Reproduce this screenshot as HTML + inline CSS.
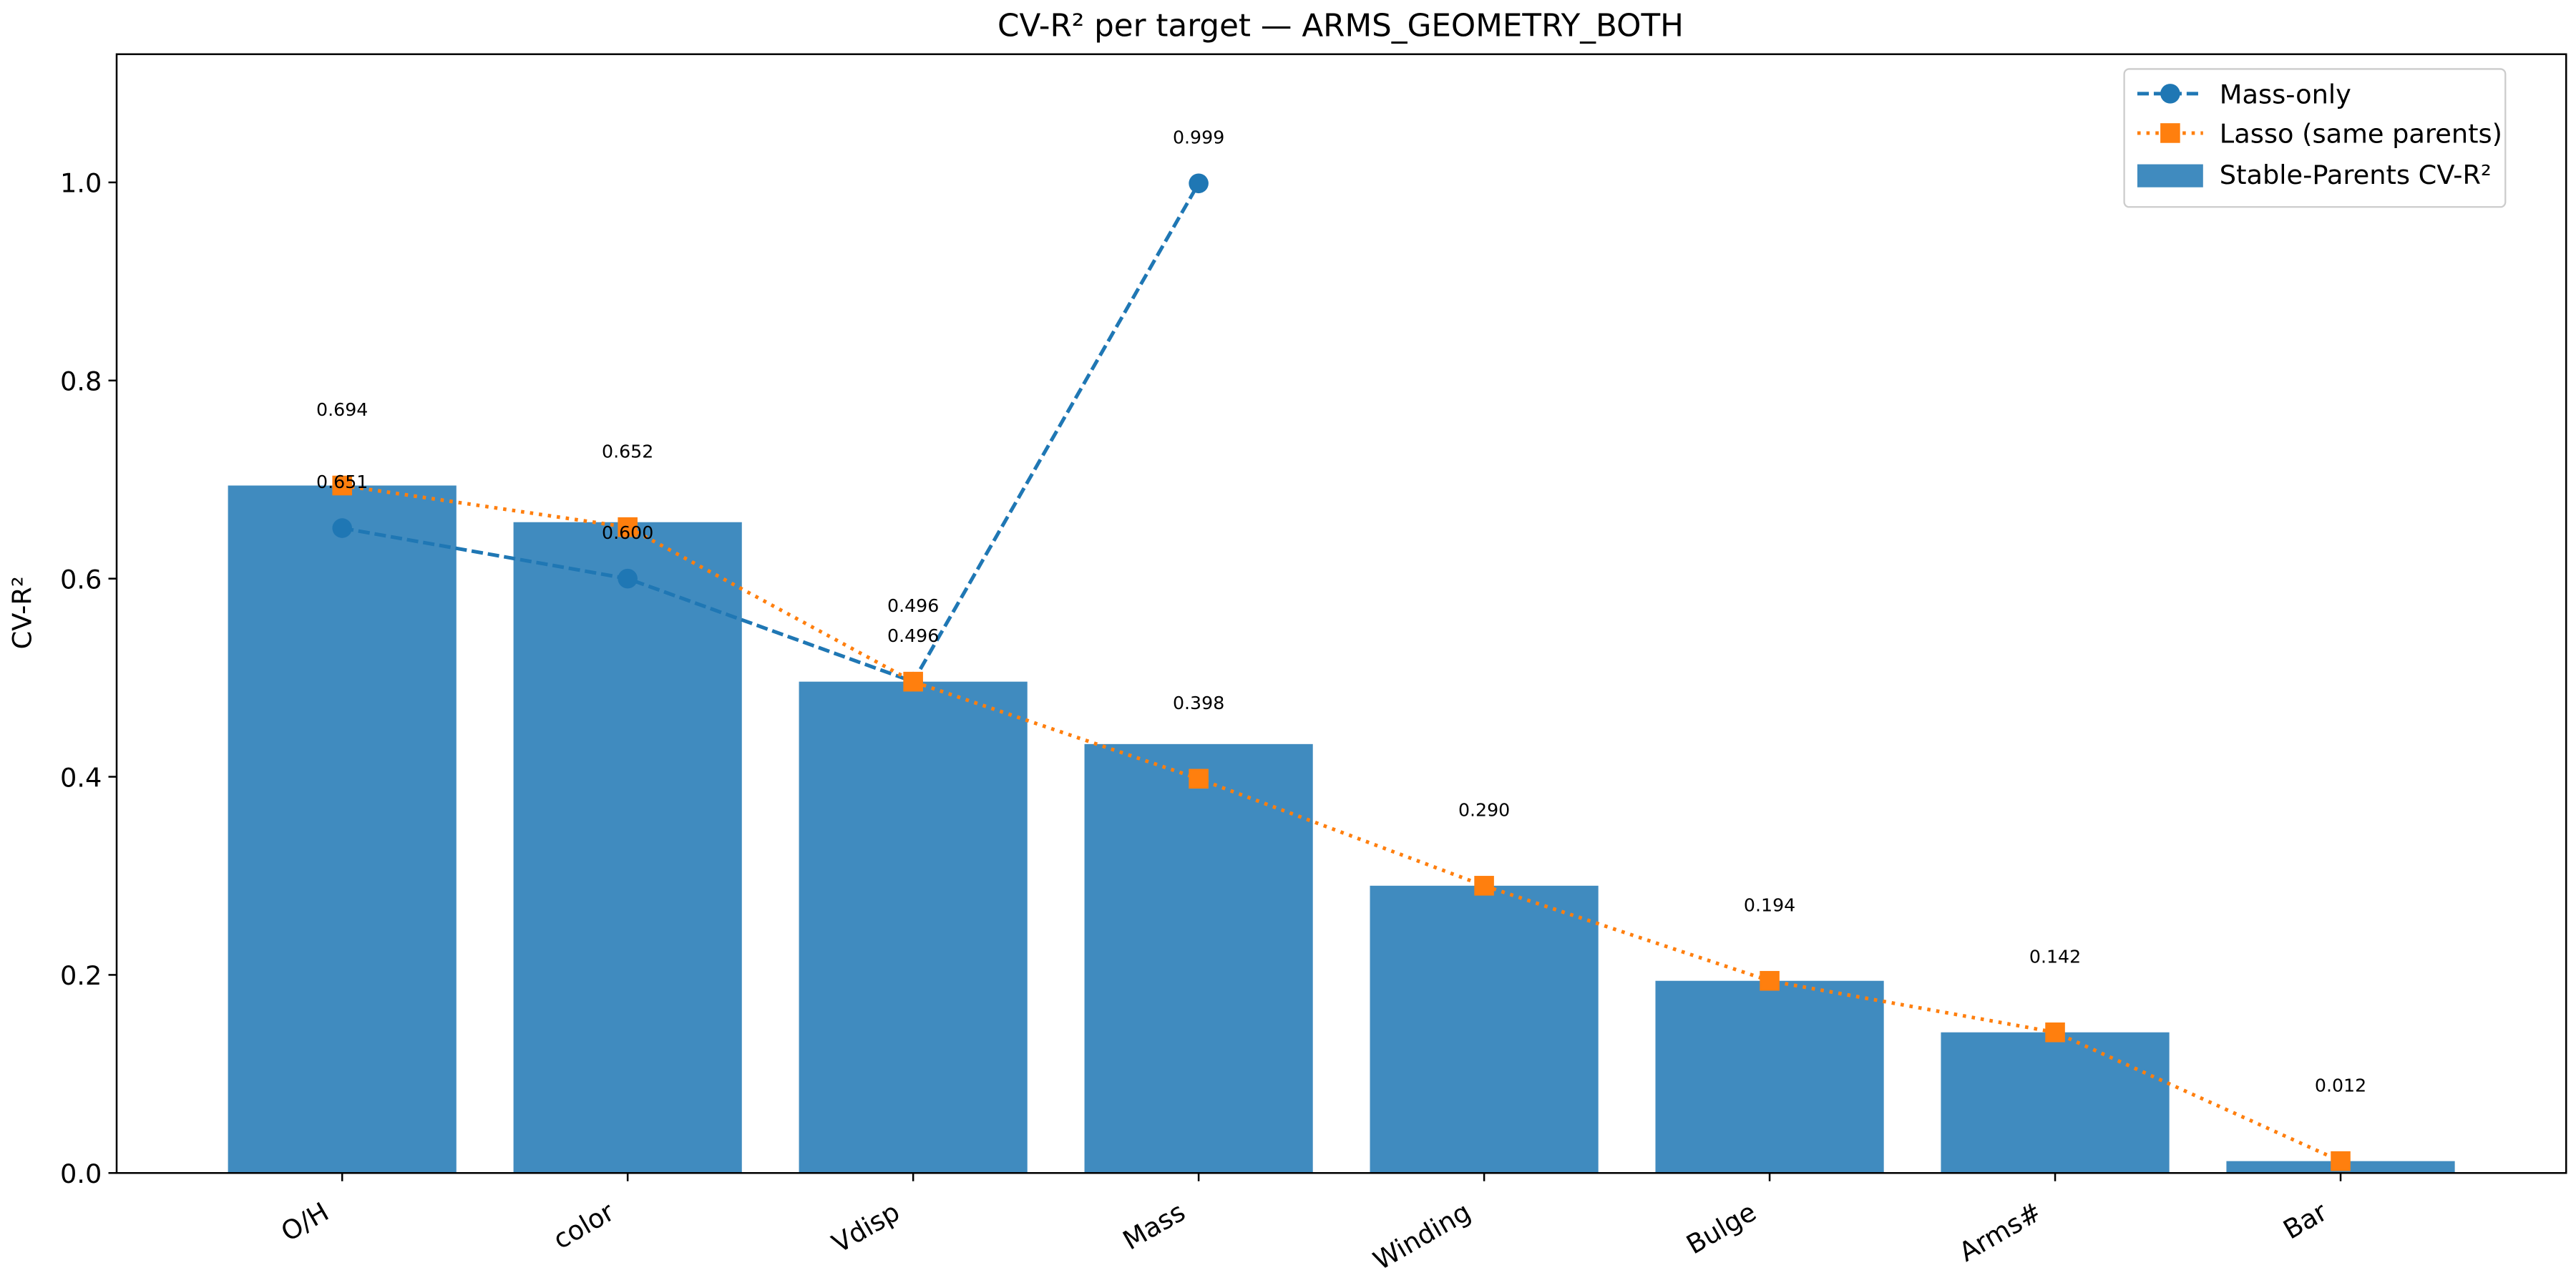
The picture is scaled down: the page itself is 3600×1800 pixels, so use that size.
<!DOCTYPE html>
<html><head><meta charset="utf-8"><style>html,body{margin:0;padding:0;background:#fff}svg{display:block}text{font-family:"DejaVu Sans","Liberation Sans",sans-serif}</style></head>
<body>
<svg id="chart" width="3600" height="1800" viewBox="0 0 1568 784" xmlns="http://www.w3.org/2000/svg">
<rect width="1568" height="784" fill="#fff"/>
<text x="816" y="22" text-anchor="middle" font-size="19">CV-R² per target — ARMS_GEOMETRY_BOTH</text>
<text transform="translate(19,373) rotate(-90)" text-anchor="middle" font-size="16">CV-R²</text>
<g id="plot"></g>
<g id="legend">
<rect x="1293" y="42" width="232" height="84" rx="3" fill="#fff" fill-opacity="0.8" stroke="#ccc"/>
<g>
<line x1="1301" y1="57" x2="1341" y2="57" stroke="#1f77b4" stroke-width="2.2" stroke-dasharray="7,3"/>
<circle cx="1321" cy="57" r="6" fill="#1f77b4"/>
<text x="1351" y="63" font-size="16">Mass-only</text></g>
<g>
<line x1="1301" y1="81" x2="1341" y2="81" stroke="#ff7f0e" stroke-width="2.2" stroke-dasharray="2,3.5"/>
<rect x="1315" y="75" width="12" height="12" fill="#ff7f0e"/>
<text x="1351" y="87" font-size="16">Lasso (same parents)</text></g>
<g>
<rect x="1301" y="100" width="40" height="14" fill="#1f77b4" fill-opacity="0.85"/>
<text x="1351" y="112" font-size="16">Stable-Parents CV-R²</text></g>
</g>
</svg>
<script>
const categories = ["O/H","color","Vdisp","Mass","Winding","Bulge","Arms#","Bar"];
const stableValues = [0.694,0.657,0.496,0.433,0.290,0.194,0.142,0.012];
const massOnlyValues = [0.651,0.600,0.496,0.999];
const lassoValues = [0.694,0.652,0.496,0.398,0.290,0.194,0.142,0.012];
const yTicks = [0.0,0.2,0.4,0.6,0.8,1.0];

const L=71,R=1562,T=33,B=714;
const xMin=-0.79,xMax=7.79,yMin=0,yMax=1.1294;
const xs=i=>L+(i-xMin)/(xMax-xMin)*(R-L);
const ys=v=>B-(v-yMin)/(yMax-yMin)*(B-T);
const NS="http://www.w3.org/2000/svg";
const g=document.getElementById('plot');
function mk(tag,attrs,parent){const e=document.createElementNS(NS,tag);for(const k in attrs)e.setAttribute(k,attrs[k]);(parent||g).appendChild(e);return e;}

stableValues.forEach((v,i)=>{
  const w=(xs(0.8)-xs(0));
  const r=mk('rect',{x:xs(i)-w/2,y:ys(v),width:w,height:ys(0)-ys(v),fill:'#1f77b4','fill-opacity':0.85});
  
  
});
const mp=massOnlyValues.map((v,i)=>xs(i)+','+ys(v)).join(' ');
const ml=mk('polyline',{points:mp,fill:'none',stroke:'#1f77b4','stroke-width':2.2,'stroke-dasharray':'7,3'});


massOnlyValues.forEach((v,i)=>{
  const c=mk('circle',{cx:xs(i),cy:ys(v),r:6,fill:'#1f77b4'});
  
  
});
const lp=lassoValues.map((v,i)=>xs(i)+','+ys(v)).join(' ');
const ll=mk('polyline',{points:lp,fill:'none',stroke:'#ff7f0e','stroke-width':2.2,'stroke-dasharray':'2,3.5'});


lassoValues.forEach((v,i)=>{
  const s=mk('rect',{x:xs(i)-6,y:ys(v)-6,width:12,height:12,fill:'#ff7f0e'});
  
  
});
lassoValues.forEach((v,i)=>{
  const t=mk('text',{x:xs(i),y:ys(v+0.077)+4,'text-anchor':'middle','font-size':11});
  t.textContent=v.toFixed(3);
  
  
});
massOnlyValues.forEach((v,i)=>{
  const t=mk('text',{x:xs(i),y:ys(v+0.047)+4,'text-anchor':'middle','font-size':11});
  t.textContent=v.toFixed(3);
  
  
});
const fr=mk('rect',{x:L,y:T,width:R-L,height:B-T,fill:'none',stroke:'#000','stroke-width':1.1});


yTicks.forEach(v=>{
  mk('line',{x1:L-5,x2:L,y1:ys(v),y2:ys(v),stroke:'#000','stroke-width':1.1});
  const t=mk('text',{x:L-9,y:ys(v)+6,'text-anchor':'end','font-size':16});
  t.textContent=v.toFixed(1);
  
  
});
categories.forEach((c,i)=>{
  mk('line',{x1:xs(i),x2:xs(i),y1:B,y2:B+5,stroke:'#000','stroke-width':1.1});
  const t=mk('text',{transform:`translate(${xs(i)-7},${B+27}) rotate(-30)`,'text-anchor':'end','font-size':16});
  t.textContent=c;
  
  
});
</script>
</body></html>
